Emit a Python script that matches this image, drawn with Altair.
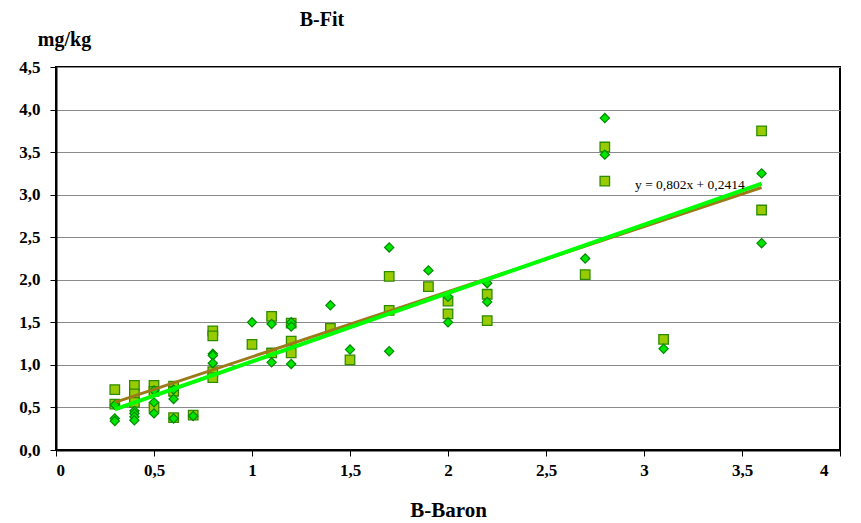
import altair as alt
import pandas as pd

# Series 1 (squares)
sq_x = [0.3, 0.3, 0.4, 0.4, 0.4, 0.5, 0.5, 0.5, 0.6, 0.6, 0.6, 0.7,
        0.8, 0.8, 0.8, 0.8, 1.0, 1.1, 1.1, 1.2, 1.2, 1.2, 1.4, 1.5,
        1.7, 1.7, 1.9, 2.0, 2.0, 2.2, 2.2, 2.7, 2.8, 2.8, 3.1, 3.6, 3.6]
sq_y = [0.71, 0.54, 0.76, 0.66, 0.56, 0.76, 0.69, 0.50, 0.75, 0.69, 0.38, 0.41,
        1.40, 1.34, 0.92, 0.85, 1.24, 1.57, 1.14, 1.49, 1.28, 1.14, 1.43, 1.06,
        2.04, 1.64, 1.92, 1.75, 1.60, 1.83, 1.52, 2.06, 3.56, 3.16, 1.30, 3.75, 2.82]

# Series 2 (diamonds)
di_x = [0.3, 0.3, 0.3, 0.4, 0.4, 0.4, 0.4, 0.5, 0.5, 0.5, 0.6, 0.6, 0.6, 0.7,
        0.8, 0.8, 0.8, 1.0, 1.1, 1.1, 1.2, 1.2, 1.2, 1.4, 1.5,
        1.7, 1.7, 1.9, 2.0, 2.0, 2.2, 2.2, 2.7, 2.8, 2.8, 3.1, 3.6, 3.6]
di_y = [0.53, 0.37, 0.34, 0.46, 0.43, 0.39, 0.35, 0.70, 0.56, 0.43, 0.71, 0.60, 0.37, 0.40,
        1.13, 1.11, 1.02, 1.50, 1.48, 1.03, 1.50, 1.45, 1.01, 1.70, 1.18,
        2.38, 1.16, 2.11, 1.80, 1.50, 1.96, 1.74, 2.25, 3.90, 3.47, 1.19, 3.25, 2.43]

x_ticks = [0, 0.5, 1, 1.5, 2, 2.5, 3, 3.5, 4]
y_ticks = [0, 0.5, 1, 1.5, 2, 2.5, 3, 3.5, 4, 4.5]

sq = pd.DataFrame({"x": sq_x, "y": sq_y})
di = pd.DataFrame({"x": di_x, "y": di_y})

FONT = "Liberation Serif"

xs = alt.Scale(domain=[0, 4], nice=False)
ys = alt.Scale(domain=[0, 4.5], nice=False)

xenc = alt.X("x:Q", scale=xs, axis=alt.Axis(
    values=x_ticks, title="B-Baron", grid=False,
    labelExpr="replace(toString(datum.value), '.', ',')",
    labelOffset={"expr": "datum.value == 4 ? -12 : 0"},
    labelFont=FONT, labelFontSize=17, labelFontWeight="bold", labelColor="black",
    labelPadding=6, tickSize=6, tickColor="black", domainColor="black", domainWidth=2,
    titleFont=FONT, titleFontSize=21, titleFontWeight="bold", titleColor="black",
    titlePadding=21))
yenc = alt.Y("y:Q", scale=ys, axis=alt.Axis(
    values=y_ticks, title="mg/kg", grid=True, gridColor="#8a8a8a", gridWidth=1,
    labelExpr="replace(format(datum.value, '.1f'), '.', ',')",
    labelFont=FONT, labelFontSize=17, labelFontWeight="bold", labelColor="black",
    labelPadding=10, tickSize=6, tickColor="black", domainColor="black", domainWidth=2,
    titleFont=FONT, titleFontSize=20, titleFontWeight="bold", titleColor="black",
    titleAngle=0, titleAlign="center", titleBaseline="middle", titleX=8, titleY=-28))

squares = alt.Chart(sq).mark_point(
    shape="square", filled=True, size=90, fill="#99CC00", stroke="#2E8B00",
    strokeWidth=1.3, opacity=1
).encode(x=xenc, y=yenc)

diamonds = alt.Chart(di).mark_point(
    shape="diamond", filled=True, size=85, fill="#00E600", stroke="#008A00",
    strokeWidth=1.2, opacity=1
).encode(x="x:Q", y="y:Q")

trend_sq = alt.Chart(sq).transform_regression(
    "x", "y", extent=[0.3, 3.6]
).mark_line(color="#9C7A1A", strokeWidth=3).encode(x="x:Q", y="y:Q")

trend_di = alt.Chart(di).transform_regression(
    "x", "y", extent=[0.3, 3.6]
).mark_line(color="#00FF00", strokeWidth=4).encode(x="x:Q", y="y:Q")

eq = alt.Chart(pd.DataFrame({"t": ["y = 0,802x + 0,2414"]})).mark_text(
    font=FONT, fontSize=13.5, align="left", baseline="alphabetic", color="black"
).encode(x=alt.value(579), y=alt.value(122), text="t:N")

title = alt.Chart(pd.DataFrame({"t": ["B-Fit"]})).mark_text(
    font=FONT, fontSize=20, fontWeight="bold", align="center", baseline="middle", color="black"
).encode(x=alt.value(266), y=alt.value(-47), text="t:N")

chart = alt.layer(squares, diamonds, trend_sq, trend_di, eq, title).properties(
    width=784, height=383,
    autosize=alt.AutoSizeParams(type="none"),
    padding={"left": 56, "top": 67, "right": 21, "bottom": 73},
    background="white"
).configure_view(stroke="black", strokeWidth=2)

chart.save("out.html", embed_options={"renderer": "svg", "actions": False})
